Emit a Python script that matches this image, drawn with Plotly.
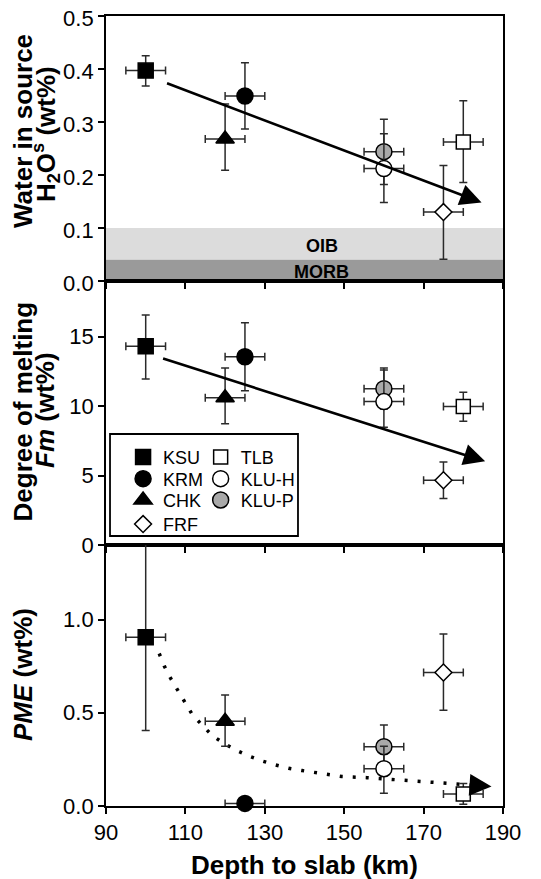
import plotly.graph_objects as go

# ---------------- data ----------------
sites = ["KSU", "KRM", "CHK", "FRF", "TLB", "KLU-H", "KLU-P"]
depth = [100, 125, 120, 175, 180, 160, 160]
depth_err = [5, 5, 5, 5, 5, 5, 5]

h2o = [0.397, 0.349, 0.268, 0.130, 0.262, 0.212, 0.244]
h2o_plus = [0.028, 0.063, 0.066, 0.088, 0.078, 0.066, 0.061]
h2o_minus = [0.029, 0.062, 0.059, 0.089, 0.076, 0.064, 0.062]

fm = [14.3, 13.55, 10.6, 4.66, 9.96, 10.32, 11.25]
fm_plus = [2.25, 2.45, 2.13, 1.31, 1.04, 2.28, 1.48]
fm_minus = [2.36, 2.45, 1.88, 1.32, 1.06, 1.84, 1.45]

pme = [0.905, 0.014, 0.455, 0.716, 0.064, 0.200, 0.318]
pme_plus = [0.55, 0.0, 0.14, 0.207, 0.056, 0.12, 0.116]
pme_minus = [0.50, 0.0, 0.135, 0.202, 0.054, 0.132, 0.118]

# trend arrows (tail -> tip)
arrow_top_x = [105.0, 184.6]
arrow_top_y = [0.374, 0.148]
arrow_mid_x = [104.0, 185.5]
arrow_mid_y = [13.45, 6.02]
curve_x = [103.4, 104.7, 106.3, 108.2, 110.0, 111.8, 114.3, 116.8, 119.7, 122.7,
           126.0, 129.4, 132.7, 136.0, 139.4, 142.7, 146.3, 149.4, 155.7, 159.0,
           162.4, 165.6, 168.7, 172.0, 175.4, 178.7, 181.7, 187.1]
curve_y = [0.818, 0.750, 0.684, 0.616, 0.550, 0.488, 0.432, 0.377, 0.336, 0.300,
           0.268, 0.241, 0.220, 0.202, 0.190, 0.179, 0.166, 0.158, 0.152, 0.147,
           0.140, 0.134, 0.130, 0.125, 0.121, 0.116, 0.113, 0.105]

# reference bands (wt% H2O)
morb_band = [0.0, 0.04]
oib_band = [0.04, 0.10]

x_ticks = [90, 110, 130, 150, 170, 190]

# ---------------- styles ----------------
symbols = ["square", "circle", "triangle-up", "diamond", "square", "circle", "circle"]
fills = ["black", "black", "black", "white", "white", "white", "#a9a9a9"]
msizes = [15, 16, 16, 13, 14, 16, 16]
draw_order = [0, 1, 2, 3, 4, 6, 5]
legend_names = ["legend", "legend2", "legend3", "legend4", "legend5", "legend6", "legend7"]

FONT = "Liberation Sans, Arial, sans-serif"
ERRC = "#2a2a2a"

fig = go.Figure()

# dotted PME trend (head added as an annotation arrow below)
fig.add_trace(go.Scatter(x=curve_x[:-1], y=curve_y[:-1], mode="lines",
                         line=dict(color="black", width=3.5, dash="3px,10px"),
                         xaxis="x3", yaxis="y3", showlegend=False, hoverinfo="skip"))

panels = [
    ("x", "y", h2o, h2o_plus, h2o_minus),
    ("x2", "y2", fm, fm_plus, fm_minus),
    ("x3", "y3", pme, pme_plus, pme_minus),
]

for p, (xa, ya, vals, plus, minus) in enumerate(panels):
    for i in draw_order:
        clip = True if (p == 2 and i == 0) else False
        fig.add_trace(go.Scatter(
            x=[depth[i]], y=[vals[i]], mode="markers",
            name=sites[i],
            marker=dict(symbol=symbols[i], size=msizes[i], color=fills[i],
                        line=dict(color="black", width=1.5)),
            error_x=dict(type="data", array=[depth_err[i]], color=ERRC,
                         thickness=1.5, width=4),
            error_y=dict(type="data", symmetric=False, array=[plus[i]],
                         arrayminus=[minus[i]], color=ERRC, thickness=1.5, width=4,
                         visible=(plus[i] > 0 or minus[i] > 0)),
            xaxis=xa, yaxis=ya, cliponaxis=clip,
            showlegend=(p == 0), legend=legend_names[i], hoverinfo="skip"))

# ---------------- layout ----------------
dom_top = [0.6646, 1.0]
dom_mid = [0.3304, 0.6646]
dom_bot = [0.0, 0.3304]

axis_common = dict(showgrid=False, zeroline=False, showline=True, linecolor="black",
                   linewidth=1.8, mirror=True, ticks="outside", ticklen=6,
                   tickwidth=1.5, tickcolor="black", automargin=False,
                   ticklabeloverflow="allow",
                   tickfont=dict(family=FONT, size=22, color="black"))

xcommon = dict(axis_common, range=[90, 190], tickmode="array", tickvals=x_ticks)

# the page adds an 8px body margin, so the figure is 8px smaller than the window
fig.update_layout(
    width=533, height=871,
    margin=dict(l=98, r=38, t=8, b=73, autoexpand=False),
    paper_bgcolor="white", plot_bgcolor="white",
    font=dict(family=FONT, color="black"),
    xaxis=dict(xcommon, anchor="y", showticklabels=False),
    xaxis2=dict(xcommon, anchor="y2", matches="x", showticklabels=False),
    xaxis3=dict(xcommon, anchor="y3", matches="x",
                ticktext=[str(v) for v in x_ticks]),
    yaxis=dict(axis_common, domain=dom_top, anchor="x", range=[0, 0.5],
               tickmode="array", tickvals=[0, 0.1, 0.2, 0.3, 0.4, 0.5], tickformat=".1f",
               ticklabelshift=2),
    yaxis2=dict(axis_common, domain=dom_mid, anchor="x2", range=[0, 19],
                tickmode="array", tickvals=[0, 5, 10, 15]),
    yaxis3=dict(axis_common, domain=dom_bot, anchor="x3", range=[0, 1.4],
                tickmode="array", tickvals=[0, 0.5, 1.0], tickformat=".1f"),
)

# bands in top panel
fig.add_shape(type="rect", xref="x domain", yref="y", x0=0, x1=1,
              y0=oib_band[0], y1=oib_band[1], fillcolor="#dcdcdc",
              line=dict(width=0), layer="below")
fig.add_shape(type="rect", xref="x domain", yref="y", x0=0, x1=1,
              y0=morb_band[0], y1=morb_band[1], fillcolor="#9a9a9a",
              line=dict(width=0), layer="below")

# legend frame
fig.add_shape(type="rect", xref="paper", yref="paper", x0=0.0101, x1=0.4836,
              y0=0.3418, y1=0.4709, fillcolor="white",
              line=dict(color="black", width=1.8), layer="above")

# legends: one per entry, laid out in two columns
leg_x = [0.043, 0.043, 0.043, 0.043, 0.2384, 0.2384, 0.2384]
leg_y = [0.4415, 0.4140, 0.3870, 0.3565, 0.4415, 0.4140, 0.3870]
for i, ln in enumerate(legend_names):
    fig.update_layout({ln: dict(x=leg_x[i], y=leg_y[i], xanchor="left", yanchor="middle",
                                bgcolor="rgba(0,0,0,0)", borderwidth=0,
                                font=dict(family=FONT, size=18, color="black"))})

# trend arrows
fig.add_annotation(x=arrow_top_x[1], y=arrow_top_y[1], ax=arrow_top_x[0], ay=arrow_top_y[0],
                   xref="x", yref="y", axref="x", ayref="y", text="", showarrow=True,
                   arrowhead=2, arrowsize=1.65, arrowwidth=2.6, arrowcolor="black",
                   standoff=0, startstandoff=0)
fig.add_annotation(x=arrow_mid_x[1], y=arrow_mid_y[1], ax=arrow_mid_x[0], ay=arrow_mid_y[0],
                   xref="x2", yref="y2", axref="x2", ayref="y2", text="", showarrow=True,
                   arrowhead=2, arrowsize=1.65, arrowwidth=2.6, arrowcolor="black",
                   standoff=0, startstandoff=0)
fig.add_annotation(x=curve_x[-1], y=curve_y[-1], ax=curve_x[-2], ay=curve_y[-2],
                   xref="x3", yref="y3", axref="x3", ayref="y3", text="", showarrow=True,
                   arrowhead=2, arrowsize=2.2, arrowwidth=2.0, arrowcolor="black",
                   standoff=0, startstandoff=0)

ann_font = dict(family=FONT, size=26, color="black")
annotations = [
    dict(text="<b>Water in source</b>", x=-0.2091, y=0.8544),
    dict(text="<b>H<sub>2</sub>O<sup>s</sup> (wt%)</b>", x=-0.1511, y=0.8506),
    dict(text="<b>Degree of melting</b>", x=-0.2091, y=0.4994),
    dict(text="<b><i>Fm</i> (wt%)</b>", x=-0.1537, y=0.5013),
    dict(text="<b><i>PME</i> (wt%)</b>", x=-0.2091, y=0.1671),
]
for a in annotations:
    fig.add_annotation(xref="paper", yref="paper", textangle=-90, showarrow=False,
                       xanchor="center", yanchor="middle", font=ann_font, **a)

fig.add_annotation(text="<b>Depth to slab (km)</b>", xref="paper", yref="paper",
                   x=0.5, y=-0.0747, xanchor="center", yanchor="middle",
                   showarrow=False, font=ann_font)
fig.add_annotation(text="<b>OIB</b>", xref="x", yref="y", x=144.3, y=0.066,
                   showarrow=False, font=dict(family=FONT, size=18, color="black"))
fig.add_annotation(text="<b>MORB</b>", xref="x", yref="y", x=144.3, y=0.017,
                   showarrow=False, font=dict(family=FONT, size=18, color="black"))

fig.write_html("out.html")
